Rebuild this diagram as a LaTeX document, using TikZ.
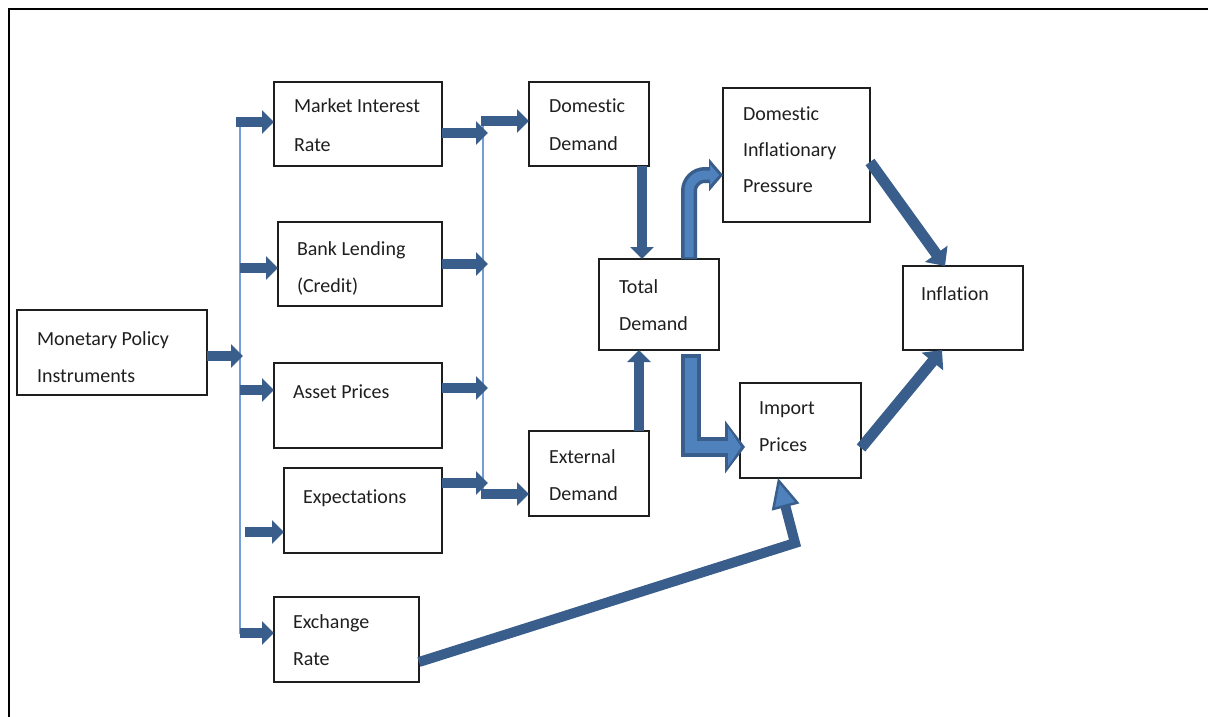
\documentclass[tikz,border=0pt]{standalone}
\usepackage{fontspec}
\setmainfont{Carlito}[Ligatures={NoCommon}]
\usetikzlibrary{arrows.meta,calc}
\definecolor{arrowblue}{RGB}{58,94,140}
\definecolor{arrowlight}{RGB}{79,129,189}
\definecolor{busblue}{RGB}{115,158,214}
\definecolor{boxline}{RGB}{30,30,30}
\tikzset{
  box/.style={draw=boxline, line width=1.4pt, inner sep=0pt, outer sep=0pt},
  txt/.style={anchor=base west, inner sep=0pt, outer sep=0pt, text=black!88},
  arr/.style={draw=arrowblue, line width=10pt, -{Triangle[length=12pt,width=23pt]}},
  diag/.style={draw=arrowblue, line width=11pt, -{Triangle[length=15pt,width=27pt]}},
  bus/.style={draw=busblue, line width=1.5pt},
  frame/.style={draw=black, line width=2pt}
}
\begin{document}
\begin{tikzpicture}[x=1pt,y=-1pt,font=\fontsize{20}{24}\selectfont]
\useasboundingbox (0,0) rectangle (1208,717);
% frame
\draw[frame] (9,717) -- (9,9) -- (1208,9);

% boxes
\node[box, minimum width=190pt, minimum height=85pt] (mpi) at (112,352.5) {};
\node[box, minimum width=168pt, minimum height=84pt] (mir) at (358,124) {};
\node[box, minimum width=164pt, minimum height=84pt] (bl) at (360,264) {};
\node[box, minimum width=168pt, minimum height=85pt] (ap) at (358,405.5) {};
\node[box, minimum width=158pt, minimum height=85pt] (ex) at (363,510.5) {};
\node[box, minimum width=145pt, minimum height=85pt] (er) at (346.5,639.5) {};
\node[box, minimum width=120pt, minimum height=84pt] (dd) at (589,124) {};
\node[box, minimum width=120pt, minimum height=91pt] (td) at (659,304.5) {};
\node[box, minimum width=120pt, minimum height=85pt] (ed) at (589,473.5) {};
\node[box, minimum width=147pt, minimum height=134pt] (dip) at (796.5,155) {};
\node[box, minimum width=120pt, minimum height=84pt] (inf) at (963,308) {};
\node[box, minimum width=121pt, minimum height=95pt] (ip) at (800.5,430.5) {};

% texts
\node[txt] (mpi1) at (37,345) {Monetary Policy};
\node[txt] (mpi2) at (37,382) {Instruments};
\node[txt] (mir1) at (294,113) {Market Interest};
\node[txt] (mir2) at (294,151) {Rate};
\node[txt] (bl1) at (297,255) {Bank Lending};
\node[txt] (bl2) at (297,292) {(Credit)};
\node[txt] (ap1) at (293,398) {Asset Prices};
\node[txt] (ex1) at (303,503) {Expectations};
\node[txt] (er1) at (293,628) {Exchange};
\node[txt] (er2) at (293,665) {Rate};
\node[txt] (dd1) at (549,113) {Domestic};
\node[txt] (dd2) at (549,150) {Demand};
\node[txt] (td1) at (619,293) {Total};
\node[txt] (td2) at (619,330) {Demand};
\node[txt] (ed1) at (549,463) {External};
\node[txt] (ed2) at (549,500) {Demand};
\node[txt] (dip1) at (743,120) {Domestic};
\node[txt] (dip2) at (743,156) {Inflationary};
\node[txt] (dip3) at (743,192) {Pressure};
\node[txt] (inf1) at (921,300) {Inflation};
\node[txt] (ip1) at (759,414) {Import};
\node[txt] (ip2) at (759,451) {Prices};

% left bus
\coordinate (lbtop) at (240,120);
\coordinate (lbbot) at (240,634);
\draw[bus] (lbtop) -- (lbbot);
\coordinate (lb1) at (236,122);
\coordinate (lb2) at (240,268);
\coordinate (lbm) at (243,356);
\coordinate (lb3) at (240,390);
\coordinate (lb4) at (245,532);
\coordinate (lb5) at (240,633);
\draw[arr] (lb1) -- (lb1 -| mir.west);
\draw[arr] (lb2) -- (lb2 -| bl.west);
\draw[arr] (mpi.east |- lbm) -- (lbm);
\draw[arr] (lb3) -- (lb3 -| ap.west);
\draw[arr] (lb4) -- (lb4 -| ex.west);
\draw[arr] (lb5) -- (lb5 -| er.west);

% right bus
\coordinate (rbtop) at (483,121);
\coordinate (rbbot) at (483,494);
\draw[bus] (rbtop) -- (rbbot);
\coordinate (rb1) at (488,133);
\coordinate (rb2) at (488,264);
\coordinate (rb3) at (488,388);
\coordinate (rb4) at (488,483);
\coordinate (rbA) at (481,121);
\coordinate (rbB) at (481,494);
\draw[arr] (mir.east |- rb1) -- (rb1);
\draw[arr] (bl.east |- rb2) -- (rb2);
\draw[arr] (ap.east |- rb3) -- (rb3);
\draw[arr] (ex.east |- rb4) -- (rb4);
\draw[arr] (rbA) -- (rbA -| dd.west);
\draw[arr] (rbB) -- (rbB -| ed.west);

% demand to total
\draw[arr] (dd.south -| 642,0) -- (td.north -| 642,0);
\draw[arr] (ed.north -| 639,0) -- (td.south -| 639,0);

% total to domestic inflationary pressure (outlined, rounded)
\coordinate (tdUp) at (689,175);
\draw[draw=arrowblue, line width=16pt, rounded corners=16pt, -{Triangle[length=14pt,width=32pt]}]
  (td.north -| tdUp) -- (tdUp) -- (dip.west |- tdUp);
\draw[draw=arrowlight, line width=9pt, rounded corners=16pt, shorten >=4pt, -{Triangle[length=9pt,width=20pt]}]
  ($(td.north -| tdUp)+(0,-2)$) -- (tdUp) -- (dip.west |- tdUp);

% total to import prices (outlined, sharp)
\coordinate (tdDown) at (691,447);
\draw[draw=arrowblue, line width=20pt, line join=miter, -{Triangle[length=20pt,width=52pt]}]
  ($(td.south -| tdDown)+(0,4)$) -- (tdDown) -- ($(ip.west |- tdDown)+(5,0)$);
\draw[draw=arrowlight, line width=12pt, line join=miter, shorten >=4pt, -{Triangle[length=13pt,width=38pt]}]
  ($(td.south -| tdDown)+(0,8)$) -- (tdDown) -- ($(ip.west |- tdDown)+(5,0)$);

% to inflation
\draw[diag] (dip.east |- 0,162) -- (inf.north -| 945,0);
\draw[diag] (ip.east |- 0,448) -- (inf.south -| 942,0);

% exchange rate to import prices
\coordinate (bend) at (795,543);
\draw[draw=arrowblue, line width=10pt, line join=miter,
  -{Triangle[length=30pt,width=28pt,line width=2.5pt,fill=arrowlight]}]
  (er.east |- 0,662) -- (bend) -- (ip.south -| 778,0);
\end{tikzpicture}
\end{document}
